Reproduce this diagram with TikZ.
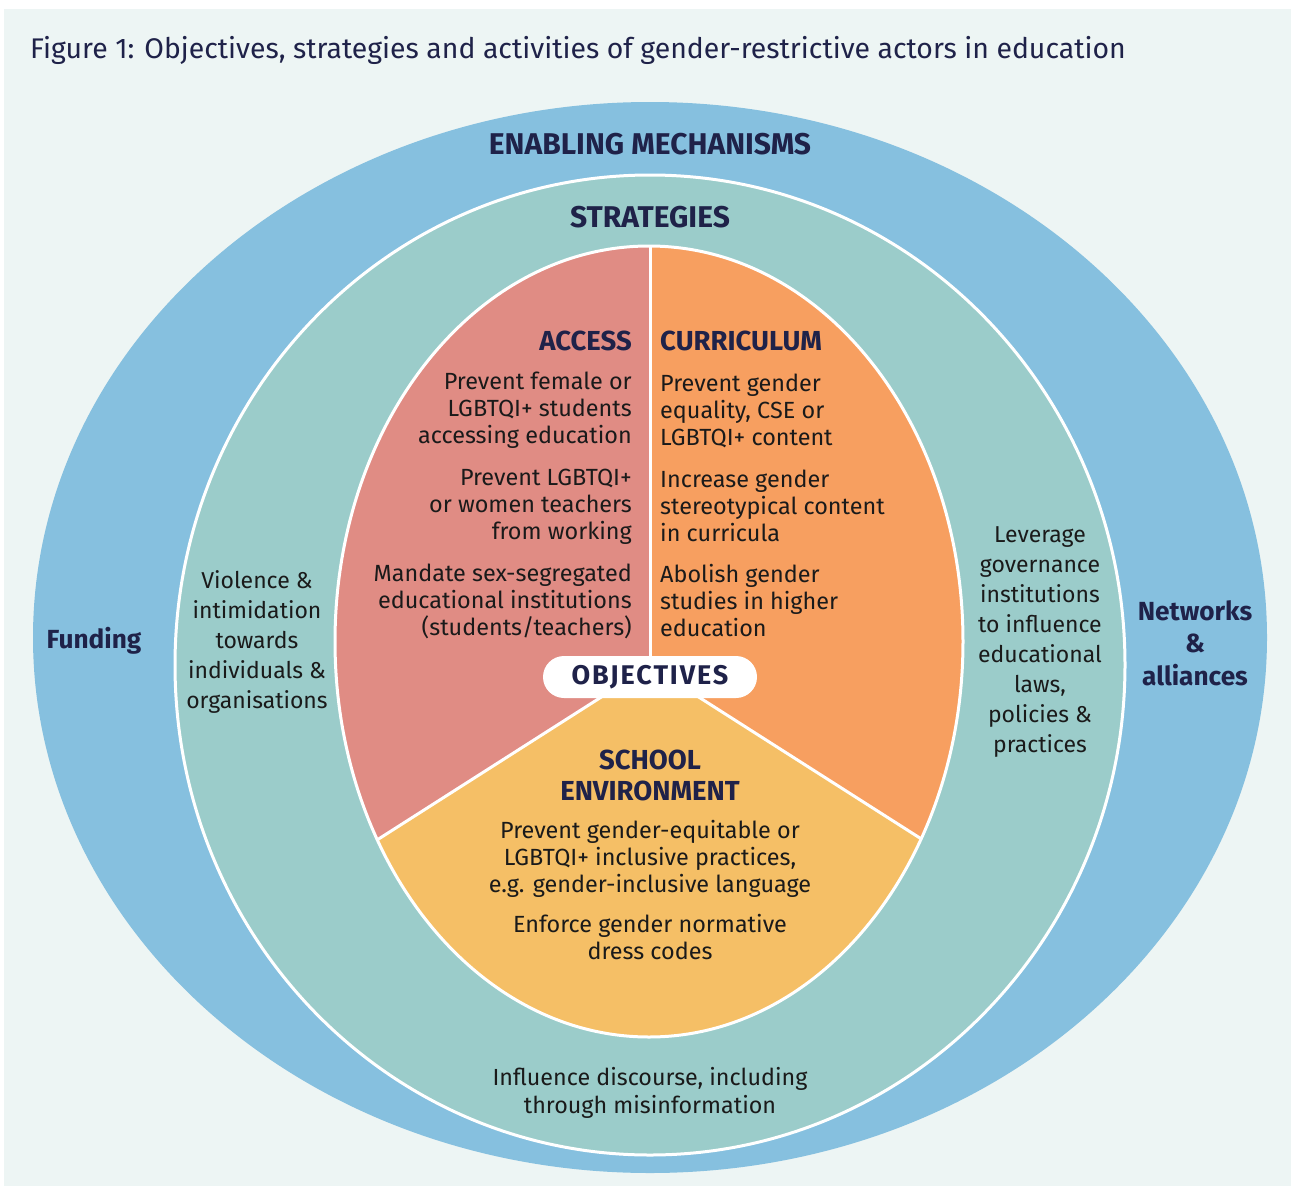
\documentclass[tikz,border=0pt]{standalone}
\usepackage{fontspec}
\setmainfont{Fira Sans}
\definecolor{panel}{HTML}{EDF5F4}
\definecolor{outerblue}{HTML}{86C0DF}
\definecolor{teal}{HTML}{9BCCCA}
\definecolor{pink}{HTML}{E08C84}
\definecolor{orng}{HTML}{F79F60}
\definecolor{yell}{HTML}{F5BF66}
\definecolor{navy}{HTML}{1F2249}
\definecolor{body}{HTML}{1A1A1A}
\tikzset{
  head/.style={font=\bfseries\fontsize{27.5}{31}\selectfont, text=navy, inner sep=0pt},
  bighead/.style={font=\bfseries\fontsize{30}{33}\selectfont, text=navy, inner sep=0pt},
  txt/.style={font=\fontsize{23.4}{27}\selectfont, text=body, inner sep=0pt},
  ringtxt/.style={font=\fontsize{23}{30}\selectfont, text=body, inner sep=0pt, align=center},
  mech/.style={font=\bfseries\fontsize{26.2}{32.5}\selectfont, text=navy, inner sep=0pt, align=center},
}
\begin{document}
\begin{tikzpicture}[x=1pt,y=-1pt]
\useasboundingbox (0,0) rectangle (1291,1186);
\fill[white] (0,0) rectangle (1291,1186);
\fill[panel] (4,9) rectangle (1291,1186);
% title
\node[anchor=west, font=\fontsize{28.4}{32}\selectfont, text=navy, inner sep=0pt] (title) at (30,50)
  {Figure 1: Objectives, strategies and activities of gender-restrictive actors in education};
% outer ring
\fill[outerblue] (650,637.5) ellipse [x radius=617pt, y radius=535.5pt];
% strategies ring
\filldraw[fill=teal, draw=white, line width=3pt] (650,665) ellipse [x radius=475pt, y radius=490pt];
% pie
\begin{scope}
  \clip (649,641.5) ellipse [x radius=314pt, y radius=395.5pt];
  \fill[pink] (650,666) -- (650,200) -- (200,200) -- (200,952.8) -- cycle;
  \fill[orng] (650,666) -- (650,200) -- (1100,200) -- (1100,952.8) -- cycle;
  \fill[yell] (650,666) -- (200,952.8) -- (200,1100) -- (1100,1100) -- (1100,952.8) -- cycle;
  \draw[white, line width=3pt] (650,666) -- (650,200);
  \draw[white, line width=3pt] (650,666) -- (200,952.8);
  \draw[white, line width=3pt] (650,666) -- (1100,952.8);
\end{scope}
\draw[white, line width=3pt] (649,641.5) ellipse [x radius=314pt, y radius=395.5pt];
% objectives pill
\node[fill=white, rounded corners=21pt, minimum width=214pt, minimum height=42pt, inner sep=0pt,
  font=\bfseries\fontsize{27}{31}\selectfont\addfontfeature{LetterSpace=7}, text=navy] (obj) at (650,677) {OBJECTIVES};
% ring labels
\node[bighead] (enab) at (650,144) {ENABLING MECHANISMS};
\node[bighead] (strat) at (650,217) {STRATEGIES};
\node[mech] (fund) at (94,641) {Funding};
\node[mech] (netw) at (1195,643) {Networks\\\&\\alliances};
\node[ringtxt] (viol) at (257,642) {Violence \&\\intimidation\\towards\\individuals \&\\organisations};
\node[ringtxt] (lev) at (1040,642) {Leverage\\governance\\institutions\\to influence\\educational\\laws,\\policies \&\\practices};
\node[ringtxt, font=\fontsize{23.3}{28}\selectfont] (infl) at (650,1093) {Influence discourse, including\\through misinformation};
% access
\node[head, anchor=east] (acc) at (632,341) {ACCESS};
\node[txt, anchor=east, align=right] (acctxt) at (632,505.5)
  {Prevent female or\\LGBTQI+ students\\accessing education\\[15pt]
   Prevent LGBTQI+\\or women teachers\\from working\\[15pt]
   Mandate sex-segregated\\educational institutions\\(students/teachers)};
% curriculum
\node[head, anchor=west] (cur) at (660,341) {CURRICULUM};
\node[txt, anchor=west, align=left] (curtxt) at (660,505.5)
  {Prevent gender\\equality, CSE or\\LGBTQI+ content\\[15pt]
   Increase gender\\stereotypical content\\in curricula\\[14pt]
   Abolish gender\\studies in higher\\education};
% school environment
\node[head, align=center] (school) at (650,775) {SCHOOL\\ENVIRONMENT};
\node[txt, align=center] (schtxt) at (650,890.5)
  {Prevent gender-equitable or\\LGBTQI+ inclusive practices,\\e.g. gender-inclusive language\\[13pt]
   Enforce gender normative\\dress codes};
\end{tikzpicture}
\end{document}
